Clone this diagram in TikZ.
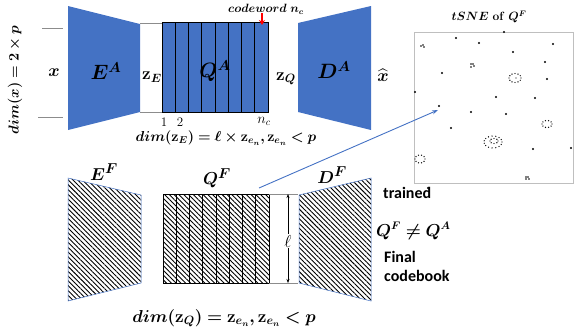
\documentclass[tikz,border=0pt]{standalone}
\usepackage{amsmath,bm}
\usepackage{fontspec}
\newfontfamily\calib{Carlito}
\usetikzlibrary{patterns.meta,arrows.meta}
\definecolor{ablue}{HTML}{4472C4}
\tikzset{
  bluebox/.style={fill=ablue,draw=none},
  hatchbox/.style={pattern={Lines[angle=-45,distance=3.4pt,line width=0.9pt]}},
  colbox/.style={draw=black,line width=0.9pt},
  guide/.style={draw=black!45,line width=0.5pt},
  lbl/.style={inner sep=0pt,anchor=center},
  tdot/.style={fill=black},
}
\newcommand{\fs}[1]{\fontsize{#1}{#1}\selectfont}
\begin{document}
\begin{tikzpicture}[x=1pt,y=-1pt]
\useasboundingbox (0,0) rectangle (577,333);

% ---------- top row ----------
\draw[guide] (42,28) -- (63,28);
\draw[guide] (38,117) -- (63,117);
\draw[guide] (140,23) -- (162,23);
\draw[guide] (140,112) -- (162,112);

\path[bluebox] (68,6) -- (140,24) -- (140,112) -- (68,130) -- cycle;
\path[bluebox] (298,23) -- (371,6) -- (371,130) -- (298,112) -- cycle;

\path[bluebox] (162,22) rectangle (268,112);
\foreach \i in {1,...,7} {\draw[line width=0.9pt] ({162+\i*13.25},22) -- ({162+\i*13.25},112);}
\draw[colbox] (162,22) rectangle (268,112);

\node[lbl] (xin) at (54,73) {\fs{19}$\bm{x}$};
\node[lbl] (EA) at (106,71) {\fs{21}$\bm{E^A}$};
\node[lbl] (zE) at (152,77) {\fs{17}$\bm{\mathbf{z}_{E}}$};
\node[lbl] (QA) at (215,71) {\fs{21}$\bm{Q^A}$};
\node[lbl] (zQ) at (286,79) {\fs{17}$\bm{\mathbf{z}_{Q}}$};
\node[lbl] (DA) at (334,70) {\fs{21}$\bm{D^A}$};
\node[lbl] (xhat) at (383,75) {\fs{17}$\bm{\widehat{x}}$};

\node[lbl,rotate=90] (dimx) at (15,80) {\fs{15}$\bm{dim(x) = 2\times p}$};

\node[lbl] (cw) at (266,9) {\fs{11.5}$\bm{codeword\ n_c}$};
\coordinate (cwtip) at (262,25);
\draw[red,line width=1.2pt,-{Stealth[length=5pt,width=6pt]}] (262,13) -- (cwtip);

\node[lbl] (n1) at (164,122) {\fs{13}1};
\node[lbl] (n2) at (180,122) {\fs{13}2};
\node[lbl] (nc) at (264,121) {\fs{14}$n_c$};

\node[lbl] (dimzE) at (226,138) {\fs{14}$\bm{dim(\mathbf{z}_E) = \ell\times \mathbf{z}_{e_n}, \mathbf{z}_{e_n}< p}$};

% ---------- tSNE ----------
\node[lbl] (tsnet) at (489,17) {\fs{12}$\bm{tSNE}$ \textbf{of} $\bm{Q^F}$};
\node[draw=black!25,line width=0.6pt,minimum width=159pt,minimum height=151pt,inner sep=0pt,anchor=north west] (tsne) at (414,32) {};
\foreach \p in {(504,32),(456,38),(479,43),(553,44),(513,52),(545,62),(442,73),(547,79),(415,92),(496,97),(535,98),(439,106),(471,112),(506,114),(451,128),(533,149),(571,148),(428,188)}
  {\fill[tdot] \p circle (1.1pt);}
% small clusters
\foreach \p in {(421,46),(423,45),(424,47),(471,64),(473,64),(471,67),(474,66),(526,177),(528,177),(526,179),(529,179)}
  {\fill[tdot] \p circle (0.8pt);}
% rings
\foreach \a in {0,30,...,330} {\fill[tdot] ({515+6*cos(\a)},{78+4.5*sin(\a)}) circle (0.7pt);}
\fill[tdot] (516,78) circle (0.7pt);
\foreach \a in {0,36,...,324} {\fill[tdot] ({547+5*cos(\a)},{124+3.5*sin(\a)}) circle (0.7pt);}
\foreach \a in {0,24,...,336} {\fill[tdot] ({493+9*cos(\a)},{142+6*sin(\a)}) circle (0.7pt);}
\foreach \a in {0,45,...,315} {\fill[tdot] ({494+4*cos(\a)},{141+2.5*sin(\a)}) circle (0.7pt);}
\foreach \a in {0,36,...,324} {\fill[tdot] ({420+5*cos(\a)},{159+4*sin(\a)}) circle (0.7pt);}

% ---------- bottom row ----------
\path[hatchbox] (68,178) -- (141,195) -- (141,283) -- (68,301) -- cycle;
\draw[ablue,line width=0.5pt] (68,178) -- (141,195) -- (141,283) -- (68,301) -- cycle;
\path[hatchbox] (299,195) -- (371,178) -- (371,301) -- (299,283) -- cycle;
\draw[ablue,line width=0.5pt] (299,195) -- (371,178) -- (371,301) -- (299,283) -- cycle;

\path[hatchbox] (163,194) rectangle (269,283);
\foreach \i in {1,...,7} {\draw[line width=0.9pt] ({163+\i*13.25},194) -- ({163+\i*13.25},283);}
\draw[colbox] (163,194) rectangle (269,283);

\draw[guide] (269,194) -- (298,194);
\draw[guide] (269,283) -- (298,283);
\coordinate (lt) at (288,194);
\coordinate (lb) at (288,283);
\draw[line width=0.5pt,{Stealth[length=4pt,width=3pt]}-{Stealth[length=4pt,width=3pt]}] (lt) -- (lb);
\node[lbl,fill=white,inner sep=1pt] (ell) at (288,241) {\fs{16}$\ell$};

\node[lbl] (EF) at (104,172) {\fs{19}$\bm{E^F}$};
\node[lbl] (QF) at (217,178) {\fs{19}$\bm{Q^F}$};
\node[lbl] (DF) at (332,175) {\fs{19}$\bm{D^F}$};

\coordinate (arrS) at (259,188);
\coordinate (arrE) at (438,110);
\draw[ablue,line width=0.9pt,-{Stealth[length=6pt,width=4pt]}] (arrS) -- (arrE);

\node[lbl,anchor=west] (trained) at (383,193) {\fs{16}\calib\bfseries trained};
\node[lbl,anchor=west] (neq) at (376,231) {\fs{16}$\bm{Q^F \neq Q^A}$};
\node[lbl,anchor=west] (final) at (384,257) {\fs{16}\calib\bfseries Final};
\node[lbl,anchor=west] (cbook) at (384,276) {\fs{16}\calib\bfseries codebook};

\node[lbl] (dimzQ) at (224,318) {\fs{16.5}$\bm{dim(\mathbf{z}_Q) = \mathbf{z}_{e_n}, \mathbf{z}_{e_n}< p}$};
\end{tikzpicture}
\end{document}
